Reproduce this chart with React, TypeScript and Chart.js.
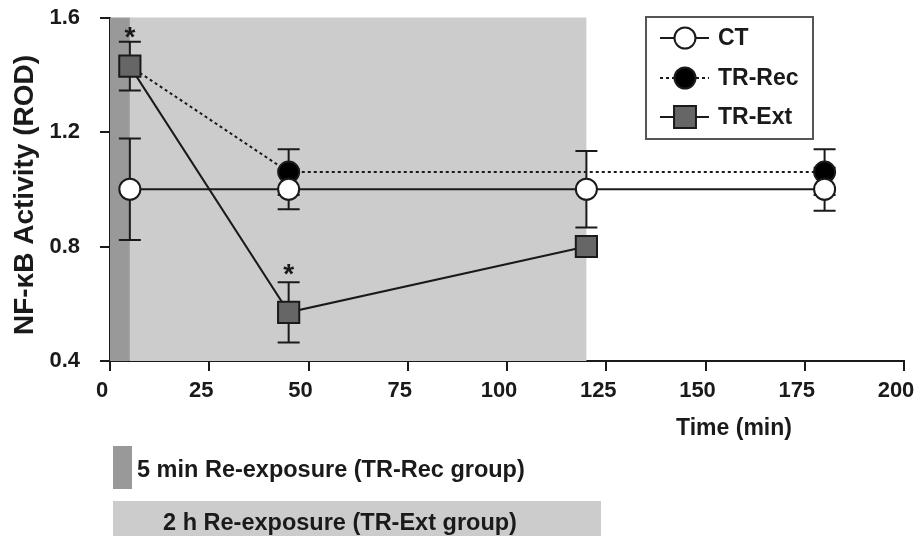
import React, { useEffect, useRef } from 'react';
import { Chart, registerables } from 'chart.js';

Chart.register(...registerables);

// ---- data ----
const ctTimes = [5, 45, 120, 180];
const ctValues = [1.0, 1.0, 1.0, 1.0];
const ctErrors = [0.177, 0.07, 0.134, 0.075];

const recTimes = [5, 45, 180];
const recValues = [1.43, 1.06, 1.06];
const recErrors = [0, 0.08, 0.08];

const extTimes = [5, 45, 120];
const extValues = [1.43, 0.57, 0.8];
const extErrors = [0.085, 0.105, 0.02];

const starTimes = [5, 45];
const starValues = [1.545, 0.718];

const xTickValues = [0, 25, 50, 75, 100, 125, 150, 175, 200];
const yTickValues = [0.4, 0.8, 1.2, 1.6];

const shortExposure = [0, 5];
const longExposure = [5, 120];

const seriesLabels = ['CT', 'TR-Rec', 'TR-Ext'];
const yTitle = 'NF-\u03baB Activity (ROD)';
const xTitle = 'Time (min)';
const shortNote = '5 min Re-exposure (TR-Rec group)';
const longNote = '2 h Re-exposure (TR-Ext group)';

const FONT = '"Liberation Sans", Arial, sans-serif';
const INK = '#1a1a1a';
const DARK = '#999999';
const LIGHT = '#cccccc';

const toXY = (xs: number[], ys: number[]) => xs.map((x, i) => ({ x, y: ys[i] }));

function drawMarker(ctx: CanvasRenderingContext2D, style: string, x: number, y: number, r: number, fill: string) {
  ctx.save();
  ctx.fillStyle = fill;
  ctx.strokeStyle = INK;
  ctx.lineWidth = 2;
  ctx.setLineDash([]);
  ctx.beginPath();
  if (style === 'rect') {
    const s = r * Math.SQRT1_2;
    ctx.rect(x - s, y - s, 2 * s, 2 * s);
  } else {
    ctx.arc(x, y, r, 0, Math.PI * 2);
  }
  ctx.fill();
  ctx.stroke();
  ctx.restore();
}

const decorPlugin = {
  id: 'decor',
  beforeDatasetsDraw(chart: any) {
    const { ctx, chartArea, scales } = chart;
    const xs = scales.x;
    ctx.save();
    // exposure shading
    ctx.fillStyle = LIGHT;
    const l1 = xs.getPixelForValue(longExposure[0]);
    const l2 = xs.getPixelForValue(longExposure[1]);
    ctx.fillRect(l1, chartArea.top, l2 - l1, chartArea.bottom - chartArea.top);
    ctx.fillStyle = DARK;
    const s1 = xs.getPixelForValue(shortExposure[0]);
    const s2 = xs.getPixelForValue(shortExposure[1]);
    ctx.fillRect(s1, chartArea.top, s2 - s1, chartArea.bottom - chartArea.top);

    // error bars
    ctx.strokeStyle = INK;
    ctx.lineWidth = 2;
    chart.data.datasets.forEach((ds: any) => {
      const errs: number[] = ds.errors || [];
      ds.data.forEach((p: any, i: number) => {
        const e = errs[i];
        if (!e) return;
        const px = xs.getPixelForValue(p.x);
        const yt = scales.y.getPixelForValue(p.y + e);
        const yb = scales.y.getPixelForValue(p.y - e);
        ctx.beginPath();
        ctx.moveTo(px, yt);
        ctx.lineTo(px, yb);
        ctx.moveTo(px - 11, yt);
        ctx.lineTo(px + 11, yt);
        ctx.moveTo(px - 11, yb);
        ctx.lineTo(px + 11, yb);
        ctx.stroke();
      });
    });
    ctx.restore();
  },
  afterDraw(chart: any) {
    const { ctx, scales } = chart;
    ctx.save();
    // asterisks
    ctx.fillStyle = INK;
    ctx.font = `bold 28px ${FONT}`;
    ctx.textAlign = 'center';
    ctx.textBaseline = 'middle';
    starTimes.forEach((t, i) => {
      ctx.fillText('*', scales.x.getPixelForValue(t), scales.y.getPixelForValue(starValues[i]) + 5);
    });

    // legend
    ctx.strokeStyle = '#555';
    ctx.lineWidth = 2;
    ctx.strokeRect(646, 17, 167, 122);
    const rows = [38, 78, 117];
    const dsOrder = [0, 1, 2];
    dsOrder.forEach((di, k) => {
      const ds: any = chart.data.datasets[di];
      const y = rows[k];
      ctx.save();
      ctx.strokeStyle = INK;
      ctx.lineWidth = 2;
      ctx.setLineDash(ds.borderDash || []);
      ctx.beginPath();
      ctx.moveTo(660, y);
      ctx.lineTo(709, y);
      ctx.stroke();
      ctx.restore();
      drawMarker(ctx, ds.pointStyle, 685, y, ds.legendRadius, ds.pointBackgroundColor);
      ctx.fillStyle = INK;
      ctx.font = `bold 23px ${FONT}`;
      ctx.textAlign = 'left';
      ctx.textBaseline = 'middle';
      ctx.fillText(seriesLabels[di], 718, y + 1);
    });

    // axis titles
    ctx.fillStyle = INK;
    ctx.font = `bold 23px ${FONT}`;
    ctx.textAlign = 'center';
    ctx.textBaseline = 'middle';
    ctx.fillText(xTitle, 734, 429);

    ctx.save();
    ctx.translate(25, 195);
    ctx.rotate(-Math.PI / 2);
    ctx.font = `bold 28px ${FONT}`;
    ctx.fillText(yTitle, 0, 0);
    ctx.restore();

    // exposure notes below
    ctx.fillStyle = DARK;
    ctx.fillRect(113, 446, 19, 43);
    ctx.fillStyle = LIGHT;
    ctx.fillRect(113, 501, 488, 35);
    ctx.fillStyle = INK;
    ctx.font = `bold 23.5px ${FONT}`;
    ctx.textAlign = 'left';
    ctx.fillText(shortNote, 137, 471);
    ctx.textAlign = 'center';
    ctx.fillText(longNote, 340, 524);
    ctx.restore();
  },
};

export default function App() {
  const ref = useRef<HTMLCanvasElement>(null);

  useEffect(() => {
    const chart = new Chart(ref.current as HTMLCanvasElement, {
      type: 'line',
      data: {
        datasets: [
          {
            label: seriesLabels[0],
            data: toXY(ctTimes, ctValues),
            errors: ctErrors,
            borderColor: INK,
            borderWidth: 2,
            pointStyle: 'circle',
            pointRadius: 10.5,
            legendRadius: 10.5,
            pointBackgroundColor: '#ffffff',
            pointBorderColor: INK,
            pointBorderWidth: 2,
            order: 0,
          } as any,
          {
            label: seriesLabels[1],
            data: toXY(recTimes, recValues),
            errors: recErrors,
            borderColor: INK,
            borderWidth: 2,
            borderDash: [3, 3],
            pointStyle: 'circle',
            pointRadius: [0, 10.5, 10.5],
            legendRadius: 10.5,
            pointBackgroundColor: '#000000',
            pointBorderColor: INK,
            pointBorderWidth: 2,
            order: 2,
          } as any,
          {
            label: seriesLabels[2],
            data: toXY(extTimes, extValues),
            errors: extErrors,
            borderColor: INK,
            borderWidth: 2,
            pointStyle: 'rect',
            pointRadius: 15,
            legendRadius: 15.5,
            pointBackgroundColor: '#666666',
            pointBorderColor: INK,
            pointBorderWidth: 2,
            order: 1,
          } as any,
        ],
      },
      options: {
        responsive: false,
        animation: false,
        events: [],
        layout: { padding: { left: 0, right: 11, top: 17.5, bottom: 0 } },
        plugins: { legend: { display: false }, tooltip: { enabled: false } },
        scales: {
          x: {
            type: 'linear',
            min: 0,
            max: 200,
            afterBuildTicks: (s: any) => {
              s.ticks = xTickValues.map((v) => ({ value: v }));
            },
            afterFit: (s: any) => {
              s.height = 175;
              s.paddingLeft = 0;
              s.paddingRight = 0;
            },
            grid: { drawOnChartArea: false, drawTicks: true, tickLength: 10, color: INK, lineWidth: 2 },
            border: { display: true, color: INK, width: 2 },
            ticks: {
              color: INK,
              font: { family: FONT, size: 22, weight: 'bold' },
              padding: 7,
              labelOffset: -8,
              maxRotation: 0,
              autoSkip: false,
            },
          },
          y: {
            type: 'linear',
            min: 0.4,
            max: 1.6,
            afterBuildTicks: (s: any) => {
              s.ticks = yTickValues.map((v) => ({ value: v }));
            },
            afterFit: (s: any) => {
              s.width = 110;
              s.paddingTop = 0;
              s.paddingBottom = 0;
            },
            grid: { drawOnChartArea: false, drawTicks: true, tickLength: 10, color: INK, lineWidth: 2 },
            border: { display: true, color: INK, width: 2 },
            ticks: {
              color: INK,
              font: { family: FONT, size: 22, weight: 'bold' },
              padding: 20,
              callback: (v: any) => Number(v).toFixed(1),
            },
          },
        },
      } as any,
      plugins: [decorPlugin],
    });
    return () => chart.destroy();
  }, []);

  return (
    <div style={{ position: 'fixed', left: 0, top: 0, width: 921, height: 536, background: '#ffffff' }}>
      <canvas ref={ref} width={921} height={536} style={{ display: 'block', width: 921, height: 536 }} />
    </div>
  );
}
